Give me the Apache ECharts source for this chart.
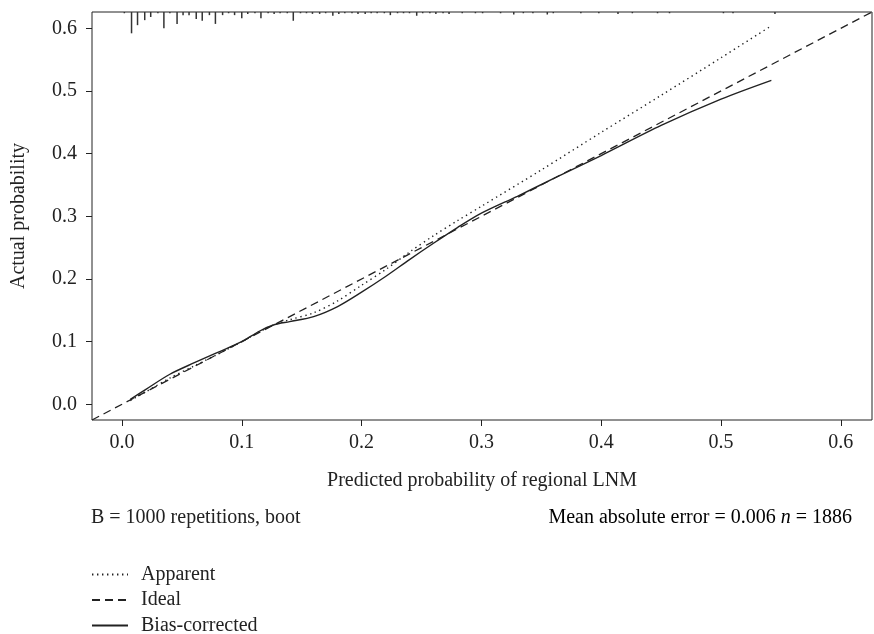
<!DOCTYPE html>
<html>
<head>
<meta charset="utf-8">
<script src="https://cdn.jsdelivr.net/npm/echarts@6/dist/echarts.min.js"></script>
<style>html,body{margin:0;padding:0;background:#fff}#c{width:874px;height:634px}</style>
</head>
<body>
<div id="c"></div>
<script>
// ---- data ----
var axisLim = [-0.025, 0.626];
var tickValues = [0, 0.1, 0.2, 0.3, 0.4, 0.5, 0.6];

var apparentX = [0.007, 0.02, 0.04, 0.06, 0.08, 0.1, 0.115, 0.127, 0.14, 0.16, 0.18, 0.2, 0.22, 0.24, 0.26, 0.28, 0.3, 0.35, 0.4, 0.45, 0.5, 0.542];
var apparentY = [0.006, 0.02, 0.042, 0.061, 0.08, 0.1, 0.116, 0.127, 0.135, 0.146, 0.165, 0.19, 0.215, 0.243, 0.269, 0.293, 0.316, 0.374, 0.434, 0.493, 0.553, 0.604];

var biasX = [0.007, 0.02, 0.04, 0.06, 0.08, 0.1, 0.115, 0.127, 0.14, 0.16, 0.18, 0.2, 0.22, 0.24, 0.26, 0.28, 0.3, 0.33, 0.36, 0.4, 0.45, 0.5, 0.542];
var biasY = [0.008, 0.024, 0.048, 0.066, 0.083, 0.1, 0.117, 0.127, 0.132, 0.14, 0.156, 0.179, 0.204, 0.231, 0.257, 0.282, 0.305, 0.332, 0.36, 0.397, 0.445, 0.487, 0.517];

// rug of predicted-probability distribution (position, relative frequency)
var rugX = [0.002, 0.008, 0.013, 0.019, 0.024, 0.03, 0.035, 0.04, 0.046, 0.051, 0.056, 0.062, 0.067, 0.073, 0.078, 0.084, 0.089, 0.094, 0.1, 0.105, 0.111, 0.116, 0.122, 0.127, 0.132, 0.138, 0.143, 0.149, 0.154, 0.159, 0.165, 0.17, 0.176, 0.181, 0.186, 0.192, 0.197, 0.203, 0.208, 0.213, 0.219, 0.224, 0.23, 0.235, 0.24, 0.246, 0.251, 0.257, 0.262, 0.268, 0.273, 0.284, 0.295, 0.301, 0.316, 0.327, 0.335, 0.343, 0.355, 0.36, 0.383, 0.398, 0.414, 0.426, 0.447, 0.457, 0.502, 0.51, 0.545];
var rugH = [0.002, 0.034, 0.021, 0.013, 0.008, 0.002, 0.026, 0.002, 0.019, 0.005, 0.005, 0.011, 0.014, 0.005, 0.019, 0.005, 0.002, 0.005, 0.01, 0.003, 0.002, 0.01, 0.002, 0.003, 0.002, 0.002, 0.014, 0.002, 0.002, 0.003, 0.003, 0.002, 0.006, 0.003, 0.002, 0.002, 0.003, 0.003, 0.002, 0.002, 0.002, 0.005, 0.002, 0.002, 0.002, 0.006, 0.002, 0.002, 0.003, 0.002, 0.003, 0.002, 0.002, 0.002, 0.002, 0.004, 0.002, 0.002, 0.004, 0.002, 0.002, 0.002, 0.003, 0.002, 0.002, 0.002, 0.002, 0.002, 0.003];

var seriesNames = ['Apparent', 'Ideal', 'Bias-corrected'];
var footLeft = 'B = 1000 repetitions, boot';
var footRight = ['Mean absolute error = 0.006 ', 'n', ' = 1886'];

// ---- build ----
function zip(a, b) { return a.map(function (v, i) { return [v, b[i]]; }); }
var FONT = 'Liberation Serif';
var FS = 20;
var INK = '#222';

var chart = echarts.init(document.getElementById('c'), null, { renderer: 'canvas' });
function axis(extra) {
  return {
    type: 'value', min: axisLim[0], max: axisLim[1],
    axisLine: { show: false, onZero: false },
    splitLine: { show: false },
    axisTick: { show: true, inside: false, length: 6, customValues: tickValues, lineStyle: { color: INK, width: 1 } },
    axisLabel: { customValues: tickValues, formatter: function (v) { return v.toFixed(1); }, fontFamily: FONT, fontSize: FS, color: INK, margin: extra.labelMargin },
    nameLocation: 'middle',
    nameGap: extra.nameGap,
    name: extra.name,
    nameTextStyle: { fontFamily: FONT, fontSize: FS, color: INK }
  };
}
var option = {
  animation: false,
  backgroundColor: '#fff',
  grid: { left: 92, right: 2, top: 12, bottom: 214, show: true, borderColor: INK, borderWidth: 1, backgroundColor: 'transparent' },
  xAxis: axis({ name: 'Predicted probability of regional LNM', nameGap: 51, labelMargin: 13 }),
  yAxis: axis({ name: 'Actual probability', nameGap: 63, labelMargin: 15 }),
  legend: {
    data: seriesNames, orient: 'vertical', left: 91, top: 564.5, height: 90, width: 300, padding: 0,
    itemWidth: 36, itemHeight: 12, itemGap: 5.5,
    itemStyle: { opacity: 0 },
    textStyle: { fontFamily: FONT, fontSize: FS, color: INK, padding: [0, 0, 0, 8] }
  },
  series: [
    { name: seriesNames[0], type: 'line', data: zip(apparentX, apparentY), symbol: 'none', smooth: 0.3,
      lineStyle: { color: INK, width: 1.4, type: [1.4, 3.6] } },
    { name: seriesNames[1], type: 'line', data: [[axisLim[0], axisLim[0]], [axisLim[1], axisLim[1]]], symbol: 'none',
      lineStyle: { color: INK, width: 1.3, type: [8, 5] } },
    { name: seriesNames[2], type: 'line', data: zip(biasX, biasY), symbol: 'none', smooth: 0.3,
      lineStyle: { color: INK, width: 1.4, type: 'solid' } },
    { name: 'rug', type: 'custom', data: zip(rugX, rugH), silent: true,
      renderItem: function (params, api) {
        var x = api.value(0), h = api.value(1);
        var p1 = api.coord([x, axisLim[1]]);
        var p2 = api.coord([x, axisLim[1] - h]);
        return { type: 'line', shape: { x1: p1[0], y1: p1[1], x2: p2[0], y2: p2[1] },
          style: { stroke: '#333', lineWidth: 1.5 } };
      } }
  ],
  graphic: [
    { type: 'text', left: 91, top: 508, style: { text: footLeft, font: FS + 'px "' + FONT + '"', fill: INK } },
    { type: 'text', right: 22, top: 508, style: {
        text: '{a|' + footRight[0] + '}{i|' + footRight[1] + '}{a|' + footRight[2] + '}',
        rich: { a: { fontFamily: FONT, fontSize: FS, color: INK }, i: { fontFamily: FONT, fontSize: FS, fontStyle: 'italic', color: INK } }
      } }
  ]
};
chart.setOption(option);
</script>
</body>
</html>
